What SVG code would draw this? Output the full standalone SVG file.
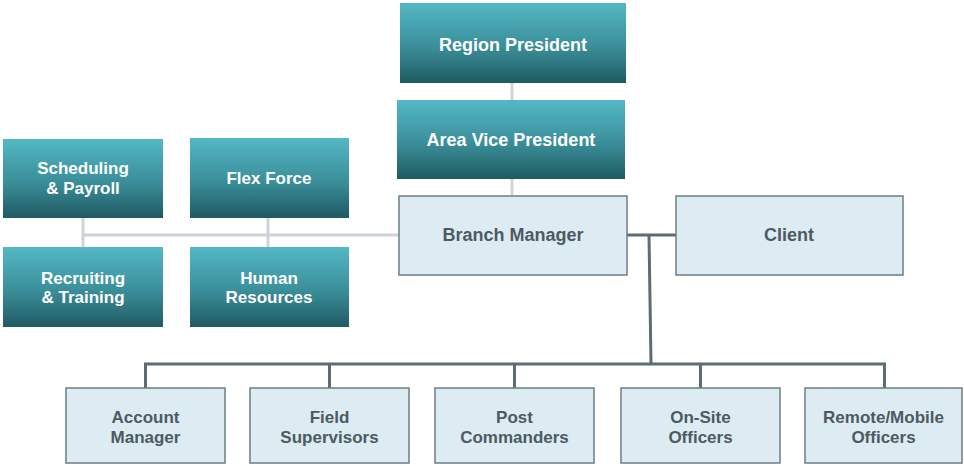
<svg xmlns="http://www.w3.org/2000/svg" width="964" height="466" viewBox="0 0 964 466">
  <defs>
    <linearGradient id="teal" x1="0" y1="0" x2="0" y2="1">
      <stop offset="0" stop-color="#53b8c5"/>
      <stop offset="0.55" stop-color="#3a8e99"/>
      <stop offset="1" stop-color="#1f5a62"/>
    </linearGradient>
    <style>
      .dark { fill: url(#teal); }
      .light { fill: #dcecf2; stroke: #6e7d86; stroke-width: 1.5; }
      .t { font-family: "Liberation Sans", Arial, sans-serif; font-weight: bold; text-anchor: middle; }
      .tw { fill: #ffffff; font-size: 17px; }
      .tw18 { fill: #ffffff; font-size: 18px; }
      .tg { fill: #4d5a62; font-size: 17px; }
      .tg18 { fill: #4d5a62; font-size: 18px; }
      .lc { stroke: #cdd4d9; stroke-width: 3; fill: none; }
      .dc { stroke: #5d6c75; stroke-width: 3; fill: none; }
    </style>
  </defs>
  <rect width="964" height="466" fill="#ffffff"/>

  <!-- connectors -->
  <g id="connectors">
    <line class="lc" x1="512" y1="83" x2="512" y2="100"/>
    <line class="lc" x1="512" y1="179" x2="512" y2="196"/>
    <line class="lc" x1="83" y1="235" x2="399" y2="235"/>
    <line class="lc" x1="83" y1="218" x2="83" y2="247"/>
    <line class="lc" x1="268" y1="218" x2="268" y2="247"/>
    <line class="dc" x1="627" y1="235" x2="676" y2="235"/>
    <line class="dc" x1="649" y1="235" x2="651" y2="364"/>
    <polyline class="dc" points="145.5,388 145.5,364 884.5,364 884.5,388"/>
    <line class="dc" x1="329.5" y1="364" x2="329.5" y2="388"/>
    <line class="dc" x1="514.5" y1="364" x2="514.5" y2="388"/>
    <line class="dc" x1="700.5" y1="364" x2="700.5" y2="388"/>
  </g>

  <g id="region-president">
    <rect class="dark" x="400" y="3" width="226" height="80"/>
    <text class="t tw18" x="513" y="51">Region President</text>
  </g>
  <g id="area-vice-president">
    <rect class="dark" x="397" y="100" width="228" height="79"/>
    <text class="t tw18" x="511" y="146">Area Vice President</text>
  </g>
  <g id="branch-manager">
    <rect class="light" x="399" y="196" width="228" height="79"/>
    <text class="t tg18" x="513" y="241">Branch Manager</text>
  </g>
  <g id="client">
    <rect class="light" x="676" y="196" width="227" height="79"/>
    <text class="t tg18" x="789" y="241">Client</text>
  </g>

  <g id="scheduling-payroll">
    <rect class="dark" x="3" y="139" width="160" height="79"/>
    <text class="t tw" x="83" y="174">Scheduling</text>
    <text class="t tw" x="83" y="194">&amp; Payroll</text>
  </g>
  <g id="flex-force">
    <rect class="dark" x="190" y="138" width="159" height="80"/>
    <text class="t tw" x="269" y="184">Flex Force</text>
  </g>
  <g id="recruiting-training">
    <rect class="dark" x="3" y="247" width="160" height="80"/>
    <text class="t tw" x="83" y="284">Recruiting</text>
    <text class="t tw" x="83" y="303">&amp; Training</text>
  </g>
  <g id="human-resources">
    <rect class="dark" x="190" y="247" width="159" height="80"/>
    <text class="t tw" x="269" y="284">Human</text>
    <text class="t tw" x="269" y="303">Resources</text>
  </g>

  <g id="account-manager">
    <rect class="light" x="66" y="388" width="159" height="75"/>
    <text class="t tg" x="145.5" y="423">Account</text>
    <text class="t tg" x="145.5" y="443">Manager</text>
  </g>
  <g id="field-supervisors">
    <rect class="light" x="250" y="388" width="159" height="75"/>
    <text class="t tg" x="329.5" y="423">Field</text>
    <text class="t tg" x="329.5" y="443">Supervisors</text>
  </g>
  <g id="post-commanders">
    <rect class="light" x="435" y="388" width="159" height="75"/>
    <text class="t tg" x="514.5" y="423">Post</text>
    <text class="t tg" x="514.5" y="443">Commanders</text>
  </g>
  <g id="on-site-officers">
    <rect class="light" x="621" y="388" width="159" height="75"/>
    <text class="t tg" x="700.5" y="423">On-Site</text>
    <text class="t tg" x="700.5" y="443">Officers</text>
  </g>
  <g id="remote-mobile-officers">
    <rect class="light" x="805" y="388" width="157" height="75"/>
    <text class="t tg" x="883.5" y="423">Remote/Mobile</text>
    <text class="t tg" x="883.5" y="443">Officers</text>
  </g>
</svg>
